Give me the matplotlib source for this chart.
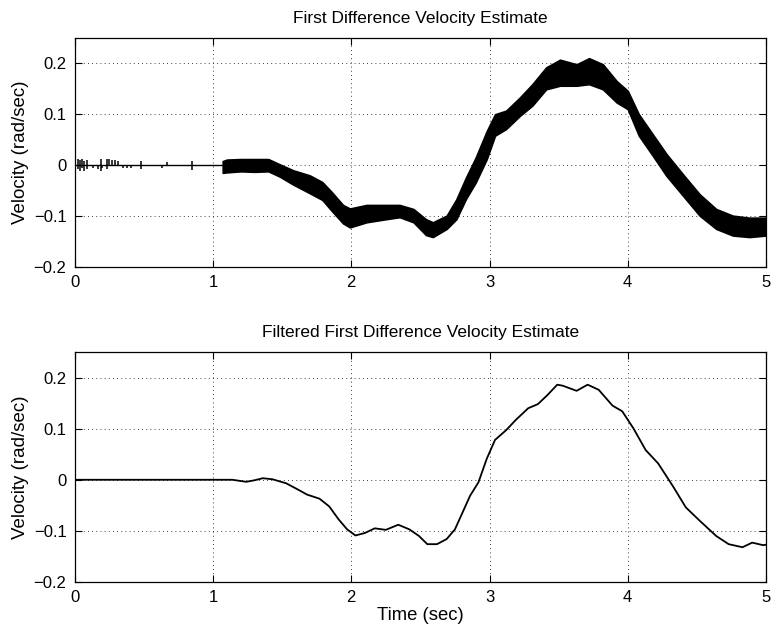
import matplotlib
matplotlib.use("Agg")
import matplotlib.pyplot as plt

# ---------------------------------------------------------------
# Raw first difference estimate: quiet section + noisy band
# ---------------------------------------------------------------
quiet_t = [0.0, 1.08]
quiet_v = [0.0, 0.0]

# isolated quantisation spikes while the shaft is nearly still
spike_t = [0.02, 0.035, 0.05, 0.07, 0.085, 0.13, 0.17, 0.19, 0.2, 0.23, 0.25,
           0.27, 0.29, 0.31, 0.35, 0.38, 0.41, 0.48, 0.63, 0.67, 0.85]
spike_lo = [-0.008, -0.012, -0.006, -0.012, -0.008, -0.006, -0.008, -0.011, -0.006,
            -0.008, 0.0, 0.0, 0.0, 0.0, -0.006, -0.006, -0.006, -0.007, -0.006,
            0.0, -0.01]
spike_hi = [0.012, 0.01, 0.012, 0.008, 0.01, 0.0, 0.0, 0.012, 0.0, 0.012, 0.012,
            0.01, 0.01, 0.008, 0.0, 0.0, 0.0, 0.008, 0.0, 0.006, 0.008]

# upper / lower edge of the noisy band
band_t = [1.07, 1.1, 1.2, 1.3, 1.4, 1.48, 1.58, 1.70, 1.79, 1.86, 1.94, 1.99,
          2.11, 2.25, 2.35, 2.45, 2.54, 2.59, 2.69, 2.76, 2.83, 2.90, 2.98,
          3.04, 3.12, 3.22, 3.31, 3.41, 3.51, 3.63, 3.72, 3.82, 3.92, 4.0,
          4.08, 4.18, 4.28, 4.40, 4.52, 4.64, 4.76, 4.88, 5.0]
band_hi = [0.008, 0.011, 0.012, 0.012, 0.012, 0.002, -0.010, -0.020, -0.033,
           -0.053, -0.078, -0.085, -0.078, -0.078, -0.078, -0.086, -0.106,
           -0.112, -0.099, -0.067, -0.024, 0.015, 0.067, 0.100, 0.107, 0.133,
           0.159, 0.192, 0.207, 0.198, 0.210, 0.198, 0.165, 0.146, 0.100,
           0.061, 0.022, -0.018, -0.057, -0.086, -0.099, -0.103, -0.103]
band_lo = [-0.015, -0.014, -0.012, -0.013, -0.012, -0.022, -0.038, -0.055,
           -0.068, -0.090, -0.114, -0.122, -0.112, -0.106, -0.102, -0.112,
           -0.137, -0.141, -0.125, -0.106, -0.066, -0.034, 0.012, 0.058, 0.071,
           0.097, 0.117, 0.149, 0.156, 0.156, 0.159, 0.149, 0.123, 0.110, 0.058,
           0.019, -0.021, -0.060, -0.099, -0.125, -0.138, -0.141, -0.138]

# ---------------------------------------------------------------
# Filtered estimate
# ---------------------------------------------------------------
filt_t = [0.0, 0.5, 1.0, 1.14, 1.24, 1.30, 1.36, 1.43, 1.53, 1.62, 1.68, 1.77,
          1.84, 1.91, 1.97, 2.03, 2.10, 2.17, 2.25, 2.34, 2.42, 2.49, 2.55,
          2.62, 2.69, 2.75, 2.80, 2.86, 2.92, 2.98, 3.04, 3.12, 3.19, 3.28,
          3.35, 3.42, 3.49, 3.53, 3.63, 3.71, 3.79, 3.89, 3.96, 4.04, 4.13,
          4.22, 4.33, 4.42, 4.52, 4.64, 4.73, 4.83, 4.90, 4.98, 5.0]
filt_v = [0.0, 0.0, 0.0, 0.0, -0.004, -0.001, 0.003, 0.001, -0.007, -0.020,
          -0.029, -0.037, -0.052, -0.078, -0.097, -0.109, -0.104, -0.095,
          -0.098, -0.088, -0.097, -0.110, -0.126, -0.126, -0.116, -0.097,
          -0.067, -0.031, -0.005, 0.041, 0.078, 0.097, 0.117, 0.140, 0.148,
          0.166, 0.186, 0.184, 0.174, 0.186, 0.176, 0.145, 0.134, 0.101, 0.058,
          0.032, -0.014, -0.054, -0.080, -0.110, -0.126, -0.132, -0.123,
          -0.128, -0.127]

x_ticks = [0, 1, 2, 3, 4, 5]
y_ticks = [-0.2, -0.1, 0, 0.1, 0.2]
y_tick_labels = ["\u22120.2", "\u22120.1", "0", "0.1", "0.2"]

plt.rcParams["font.family"] = ["Liberation Sans", "DejaVu Sans"]

fig = plt.figure(figsize=(7.71, 6.3), dpi=100)
ax1 = fig.add_axes([0.097, 0.576, 0.8965, 0.364])
ax2 = fig.add_axes([0.097, 0.0762, 0.8965, 0.3651])


def style_axes(ax):
    ax.set_xlim(0, 5)
    ax.set_ylim(-0.2, 0.25)
    ax.set_xticks(x_ticks)
    ax.set_xticklabels([str(v) for v in x_ticks])
    ax.set_yticks(y_ticks)
    ax.set_yticklabels(y_tick_labels)
    ax.tick_params(direction="in", top=True, right=True, length=5,
                   width=0.8, labelsize=12, pad=6)
    ax.grid(True, color="black", linestyle=(0, (1, 4)), linewidth=0.6)
    for sp in ax.spines.values():
        sp.set_linewidth(0.9)
    ax.set_ylabel("Velocity (rad/sec)", fontsize=13.5, labelpad=3)


# top: raw first difference
ax1.plot(quiet_t, quiet_v, color="black", linewidth=1.0)
ax1.vlines(spike_t, spike_lo, spike_hi, color="black", linewidth=1.1)
ax1.fill_between(band_t, band_lo, band_hi, color="black", linewidth=1.2,
                 edgecolor="black")
style_axes(ax1)
ax1.set_title("First Difference Velocity Estimate", fontsize=12.5, pad=11)

# bottom: filtered version
ax2.plot(filt_t, filt_v, color="black", linewidth=1.3)
style_axes(ax2)
ax2.set_title("Filtered First Difference Velocity Estimate", fontsize=12.5, pad=11)
ax2.set_xlabel("Time (sec)", fontsize=13.3, labelpad=1)

fig.savefig("out.png", dpi=100)
